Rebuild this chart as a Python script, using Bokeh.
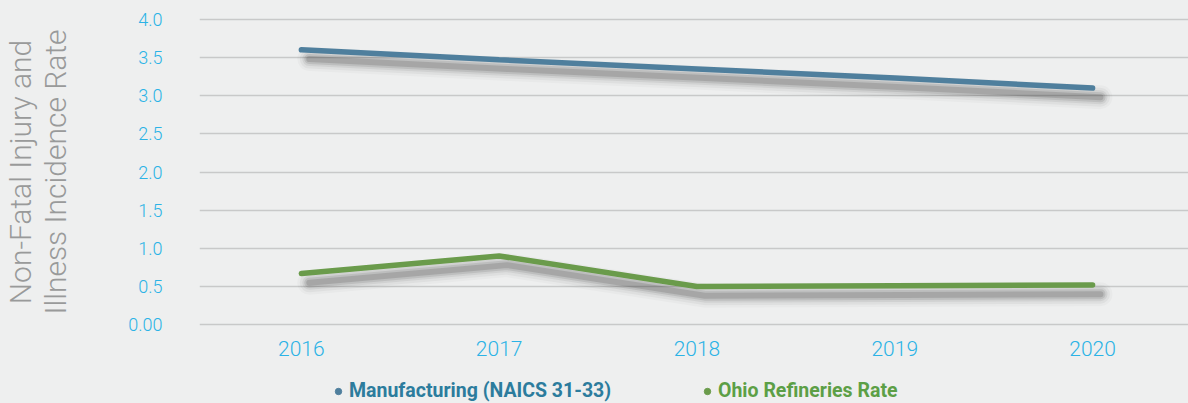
from bokeh.plotting import figure
from bokeh.layouts import column
from bokeh.models import Range1d, FixedTicker, Legend, LegendItem, ColumnDataSource
from bokeh.transform import dodge
from bokeh.embed import file_html
from bokeh.resources import INLINE

# ---- data ----
years = [2016, 2017, 2018, 2019, 2020]
year_labels = ["2016", "2017", "2018", "2019", "2020"]
manufacturing = [3.6, 3.47, 3.35, 3.23, 3.1]
refineries = [0.67, 0.9, 0.5, 0.51, 0.52]
y_ticks = [0, 0.5, 1.0, 1.5, 2.0, 2.5, 3.0, 3.5, 4.0]
y_tick_labels = ["0.00", "0.5", "1.0", "1.5", "2.0", "2.5", "3.0", "3.5", "4.0"]
series_names = ["Manufacturing (NAICS 31-33)", "Ohio Refineries Rate"]

BG = "#eeefef"
BLUE = "#4f7f9d"
GREEN = "#6a9b4b"
TICK = "#2bb3e6"

p = figure(width=1188, height=372, output_backend="svg", toolbar_location=None,
           x_range=Range1d(2015.485, 2020.485), y_range=Range1d(-0.05, 4.05),
           min_border_left=198, min_border_right=0, min_border_top=15, min_border_bottom=44)
p.background_fill_color = BG
p.border_fill_color = BG
p.outline_line_color = None

p.xgrid.grid_line_color = None
p.ygrid.grid_line_color = "#c8c9c9"
p.ygrid.grid_line_width = 1.5
p.ygrid.ticker = FixedTicker(ticks=y_ticks)

p.xaxis.ticker = FixedTicker(ticks=years)
p.xaxis.major_label_overrides = {y: l for y, l in zip(years, year_labels)}
p.yaxis.ticker = FixedTicker(ticks=y_ticks)
p.yaxis.major_label_overrides = {t: l for t, l in zip(y_ticks, y_tick_labels)}
for ax in (p.xaxis[0], p.yaxis[0]):
    ax.axis_line_color = None
    ax.major_tick_line_color = None
    ax.minor_tick_line_color = None
    ax.major_label_text_color = TICK
    ax.major_label_text_font = "Roboto Light"
p.xaxis.major_label_text_font_size = "21px"
p.xaxis.major_label_standoff = 6
p.yaxis.major_label_text_font_size = "18px"
p.yaxis.major_label_standoff = 31

p.yaxis.axis_label = "Non-Fatal Injury and\nIllness Incidence Rate"
p.yaxis.axis_label_text_font = "Roboto Light"
p.yaxis.axis_label_text_font_style = "normal"
p.yaxis.axis_label_text_font_size = "30px"
p.yaxis.axis_label_text_align = "center"
p.yaxis.axis_label_text_line_height = 1.0
p.yaxis.axis_label_text_color = "#999a9a"
p.yaxis.axis_label_standoff = 52

src = ColumnDataSource(dict(x=years, m=manufacturing, r=refineries))

# soft drop shadows
for w, a in [(24, 0.025), (19, 0.04), (14, 0.06), (10, 0.09), (6, 0.12)]:
    for col in ("m", "r"):
        p.line(x=dodge("x", 0.04, range=p.x_range), y=dodge(col, -0.12, range=p.y_range),
               source=src, line_color="black", line_alpha=a, line_width=w, line_cap="round",
               line_join="round")

p.line(x="x", y="m", source=src, line_color=BLUE, line_width=5.5, line_cap="round")
p.line(x="x", y="r", source=src, line_color=GREEN, line_width=5.5, line_cap="round")

# ---- legend strip ----
lg_fig = figure(width=1188, height=31, output_backend="svg", toolbar_location=None,
                x_range=Range1d(0, 1), y_range=Range1d(0, 1),
                min_border_left=198, min_border_right=0, min_border_top=0, min_border_bottom=0)
lg_fig.axis.visible = False
lg_fig.grid.visible = False
lg_fig.background_fill_color = BG
lg_fig.border_fill_color = BG
lg_fig.outline_line_color = None

dot_m = lg_fig.scatter(x="x", y="m", source=src, size=6, color=BLUE)
dot_r = lg_fig.scatter(x="x", y="r", source=src, size=6, color=GREEN)

for name, rend, col, loc in [(series_names[0], dot_m, "#2c7c9d", (131, 1)),
                             (series_names[1], dot_r, "#5c9f46", (500, 1))]:
    lg = Legend(items=[LegendItem(label=name, renderers=[rend])], location=loc,
                background_fill_alpha=0, border_line_color=None, padding=0, margin=0,
                glyph_width=16, glyph_height=16, label_standoff=3,
                label_text_font="Roboto", label_text_font_style="bold",
                label_text_font_size="19.5px", label_text_color=col)
    lg_fig.add_layout(lg, "center")

layout = column(p, lg_fig, spacing=0, styles={"background-color": BG})
open("out.html", "w").write(file_html(layout, INLINE))
